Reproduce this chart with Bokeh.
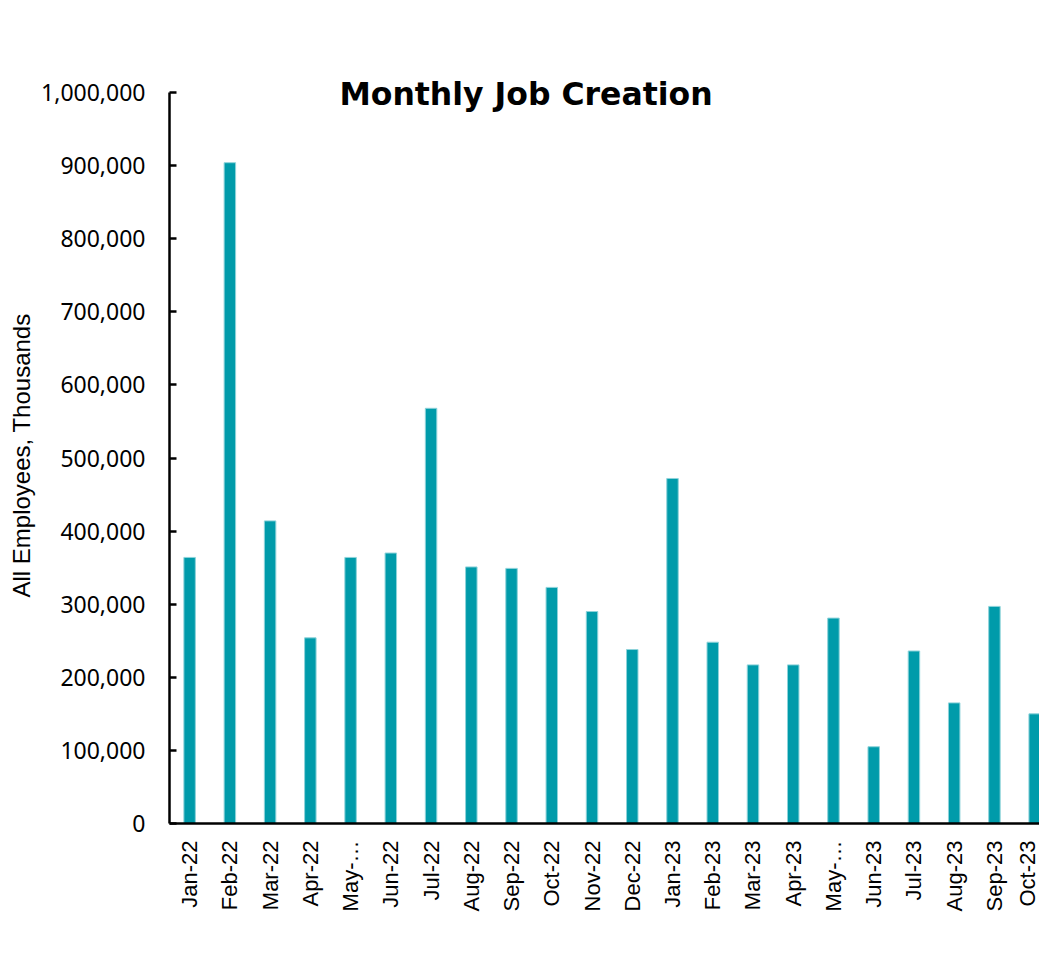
import math
from bokeh.plotting import figure
from bokeh.models import Range1d, FixedTicker, NumeralTickFormatter, Label, Title, ColumnDataSource
from bokeh.embed import file_html
from bokeh.resources import INLINE

# ---- data ----
months = ["Jan-22", "Feb-22", "Mar-22", "Apr-22", "May-\u2026", "Jun-22", "Jul-22",
          "Aug-22", "Sep-22", "Oct-22", "Nov-22", "Dec-22", "Jan-23", "Feb-23",
          "Mar-23", "Apr-23", "May-\u2026", "Jun-23", "Jul-23", "Aug-23", "Sep-23", "Oct-23"]
jobs = [364000, 904000, 414000, 254000, 364000, 370000, 568000,
        351000, 349000, 323000, 290000, 238000, 472000, 248000,
        217000, 217000, 281000, 105000, 236000, 165000, 297000, 150000]
y_ticks = [0, 100000, 200000, 300000, 400000, 500000, 600000, 700000, 800000, 900000, 1000000]
title_text = "Monthly Job Creation"
y_title = "All Employees, Thousands"

x_pos = list(range(len(months)))
src = ColumnDataSource(dict(x=x_pos, top=jobs, month=months))

# frame extends a little above the 1,000,000 line so the title (which overlaps the
# top of the plot area) is not clipped; the axis itself is bounded to 0..1,000,000
p = figure(width=1039, height=953, output_backend="svg", toolbar_location=None,
           x_range=Range1d(-0.5, 21.12), y_range=Range1d(0, 1031500),
           min_border_left=169, min_border_right=0, min_border_top=69,
           min_border_bottom=130)
p.outline_line_color = None
p.grid.visible = False
p.background_fill_color = "white"
p.border_fill_color = "white"

p.vbar(x="x", top="top", width=0.285, source=src,
       fill_color="#009BAA", line_color="#8ED3DA", line_width=1)

# x axis
xa = p.xaxis[0]
xa.ticker = FixedTicker(ticks=x_pos)
xa.major_label_overrides = {i: m for i, m in enumerate(months)}
xa.major_label_orientation = math.pi / 2
xa.major_tick_in = 0
xa.major_tick_out = 0
xa.minor_tick_line_color = None
xa.major_label_standoff = 17
xa.axis_line_width = 2.5
xa.axis_line_color = "black"
xa.major_label_text_font = "Liberation Sans"
xa.major_label_text_font_size = "22px"
xa.major_label_text_color = "black"

# y axis
ya = p.yaxis[0]
ya.ticker = FixedTicker(ticks=y_ticks)
ya.bounds = (0, 1000000)
ya.formatter = NumeralTickFormatter(format="0,0")
ya.major_tick_in = 7
ya.major_tick_out = 0
ya.major_tick_line_width = 2.5
ya.minor_tick_line_color = None
ya.axis_line_width = 2.5
ya.axis_line_color = "black"
ya.major_label_standoff = 24
ya.major_label_text_font = "Noto Sans"
ya.major_label_text_font_size = "23px"
ya.major_label_text_color = "black"

# y-axis title, placed along the left side
ytitle = Title(text=y_title, align="left", offset=226,
               text_font="Liberation Sans", text_font_size="24px",
               text_font_style="normal", text_color="black", standoff=8)
p.add_layout(ytitle, "left")

title = Label(x=8.36, y=998000, text=title_text, text_align="center",
              text_baseline="alphabetic", text_font="DejaVu Sans",
              text_font_style="bold", text_font_size="31.5px", text_color="black")
p.add_layout(title)

open("out.html", "w").write(file_html(p, INLINE))
